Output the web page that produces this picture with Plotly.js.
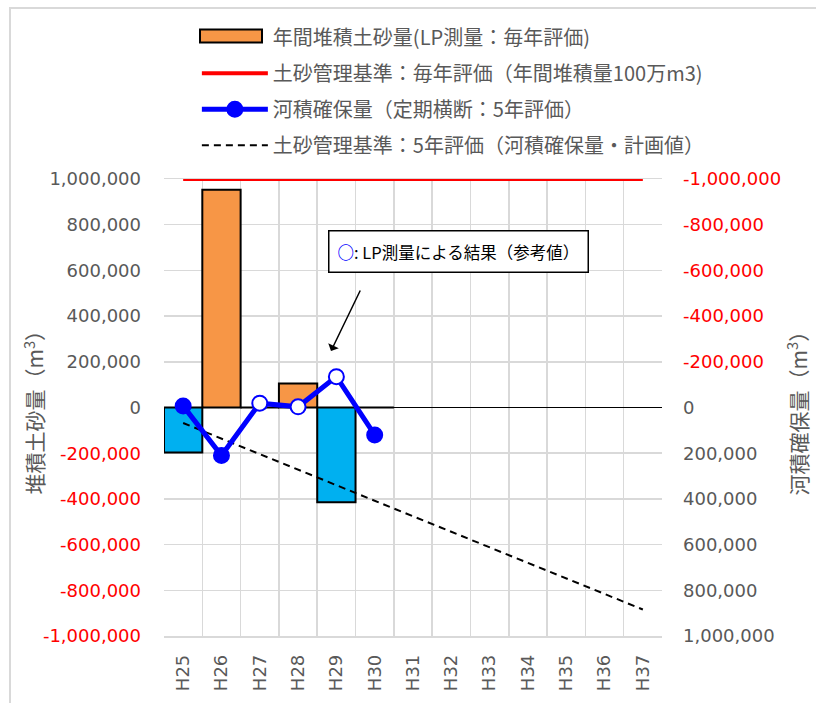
<!DOCTYPE html>
<html><head><meta charset="utf-8">
<script src="https://cdn.plot.ly/plotly-3.0.1.min.js"></script>
<style>
html,body{margin:0;padding:0;background:#fff;overflow:hidden}
#chart{width:816px;height:703px;position:absolute;left:0;top:0}
#frame{position:absolute;left:9px;top:7px;width:900px;height:800px;border-left:2px solid #d9d9d9;border-top:2px solid #d9d9d9;pointer-events:none}
</style>
</head><body><div id="chart"></div><div id="frame"></div>
<script>
// ---- data ----
const years = ['H25','H26','H27','H28','H29','H30','H31','H32','H33','H34','H35','H36','H37'];
const sedimentYears = ['H25','H26','H27','H28','H29','H30'];
const sediment = [-197000, 953000, 0, 105000, -415000, 0];
const annualLimit = [1000000,1000000,1000000,1000000,1000000,1000000,1000000,1000000,1000000,1000000,1000000,1000000,1000000];
const capacityYears = ['H25','H26','H27','H28','H29','H30'];
const channelCapacity = [-7000, 210000, -19000, -3000, -135000, 120000];
const capacityIsLP = [false, false, true, true, true, false];
const planCapacity = [68000,136000,204000,272000,340000,408000,476000,544000,612000,680000,748000,816000,884000];
const axisTicks = [-1000000,-800000,-600000,-400000,-200000,0,200000,400000,600000,800000,1000000];

const legendNames = ['年間堆積土砂量(LP測量：毎年評価)','土砂管理基準：毎年評価（年間堆積量100万m3)','河積確保量（定期横断：5年評価）','土砂管理基準：5年評価（河積確保量・計画値）'];
const leftTitle = '堆積土砂量（m<sup>3</sup>）';
const rightTitle = '河積確保量（m<sup>3</sup>）';
const noteText = '<b><span style="color:#0000ff">○</span></b>: LP測量による結果（参考値）';

// ---- styles ----
const GRAY = '#595959', RED = '#ff0000', BLUE = '#0000ff', ORANGE = '#f79646', CYAN = '#00b0f0';
const NUMFONT = 'DejaVu Sans, Noto Sans CJK JP, sans-serif';
const JPFONT = 'Noto Sans CJK JP, DejaVu Sans, sans-serif';
const fmt = v => v.toLocaleString('en-US');
const tickText = axisTicks.map(v => v < 0 ? '<span style="color:'+RED+'">'+fmt(v)+'</span>' : fmt(v));

const traces = [
  {type:'bar', x: sedimentYears, y: sediment.map(v => v >= 0 ? v : null), name: legendNames[0], showlegend:false,
   marker:{color:ORANGE, line:{color:'#000', width:2}}, legendgroup:'a', yaxis:'y'},
  {type:'bar', x: sedimentYears, y: sediment.map(v => v < 0 ? v : null), name: legendNames[0], showlegend:false,
   marker:{color:CYAN, line:{color:'#000', width:2}}, legendgroup:'a', yaxis:'y'},
  // legend entry for the bars (its wide symbol is drawn as a layout shape)
  {type:'scatter', mode:'lines', x:[null], y:[null], name: legendNames[0], line:{width:0, color:'rgba(0,0,0,0)'},
   legendgroup:'a', legendrank:1, yaxis:'y'},
  {type:'scatter', mode:'lines', x: years, y: annualLimit, name: legendNames[1],
   line:{color:RED, width:4}, legendgroup:'b', legendrank:2, yaxis:'y'},
  {type:'scatter', mode:'lines', x: years, y: planCapacity, name: legendNames[3],
   line:{color:'#000', width:2, dash:'7px,5px'}, legendgroup:'d', legendrank:4, yaxis:'y2'},
  {type:'scatter', mode:'lines+markers', x: capacityYears, y: channelCapacity, name: legendNames[2],
   line:{color:BLUE, width:5},
   marker:{size:15, color: capacityIsLP.map(f => f ? '#ffffff' : BLUE), line:{color:BLUE, width:2}},
   legendgroup:'c', legendrank:3, yaxis:'y2', cliponaxis:false}
];

const layout = {
  width:816, height:703,
  margin:{l:164, r:154, t:179, b:67, pad:0},
  paper_bgcolor:'rgba(0,0,0,0)', plot_bgcolor:'#fff',
  barmode:'overlay', bargap:0,
  showlegend:true,
  legend:{x:0.066, xanchor:'left', y:1.353, yanchor:'top', traceorder:'grouped', tracegroupgap:7,
          itemwidth:66, font:{family:JPFONT, size:20, color:GRAY}, bgcolor:'rgba(0,0,0,0)'},
  xaxis:{type:'category', categoryorder:'array', categoryarray: years, range:[-0.5, 12.5],
         tickson:'boundaries', ticks:'', showgrid:true, gridcolor:'#d9d9d9', gridwidth:1.5,
         showline:true, linecolor:'#d9d9d9', linewidth:1.5, mirror:true,
         tickangle:-90, ticklabelstandoff:10, tickfont:{family:NUMFONT, size:18, color:GRAY}, zeroline:false},
  yaxis:{range:[-1000000, 1000000], tickvals: axisTicks, ticktext: tickText, ticks:'',
         ticklabelstandoff:22, tickfont:{family:NUMFONT, size:18, color:GRAY},
         showgrid:true, gridcolor:'#d9d9d9', gridwidth:1.5, zeroline:true, zerolinecolor:'#000', zerolinewidth:1.5,
         showline:false},
  yaxis2:{overlaying:'y', side:'right', range:[1000000, -1000000], tickvals: axisTicks, ticktext: tickText, ticks:'',
          ticklabelstandoff:20, tickfont:{family:NUMFONT, size:18, color:GRAY},
          showgrid:false, zeroline:false, showline:false},
  shapes:[
    {type:'rect', xref:'paper', yref:'paper', x0:0.0723, x1:0.1968, y0:1.2987, y1:1.3271,
     fillcolor:ORANGE, line:{color:'#000', width:2}, layer:'above'}
  ],
  annotations:[
    {xref:'paper', yref:'paper', x:-0.263, y:0.5, xanchor:'center', yanchor:'middle', textangle:-90,
     text:leftTitle, showarrow:false, font:{family:JPFONT, size:21, color:GRAY}},
    {xref:'paper', yref:'paper', x:1.271, y:0.5, xanchor:'center', yanchor:'middle', textangle:-90,
     text:rightTitle, showarrow:false, font:{family:JPFONT, size:21, color:GRAY}},
    {xref:'paper', yref:'paper', x:0.592, y:0.842, xanchor:'center', yanchor:'middle', text: noteText, showarrow:false,
     font:{family:JPFONT, size:16.5, color:'#000'}, bgcolor:'#fff', bordercolor:'#000', borderwidth:1.5, borderpad:8},
    {xref:'paper', yref:'paper', x:0.3353, y:0.6236, ax:30, ay:-62, axref:'pixel', ayref:'pixel', text:'',
     showarrow:true, arrowhead:1, arrowsize:1.3, arrowwidth:1.5, arrowcolor:'#000', standoff:0}
  ]
};

Plotly.newPlot('chart', traces, layout, {staticPlot:true, displayModeBar:false});
</script>
</body></html>
